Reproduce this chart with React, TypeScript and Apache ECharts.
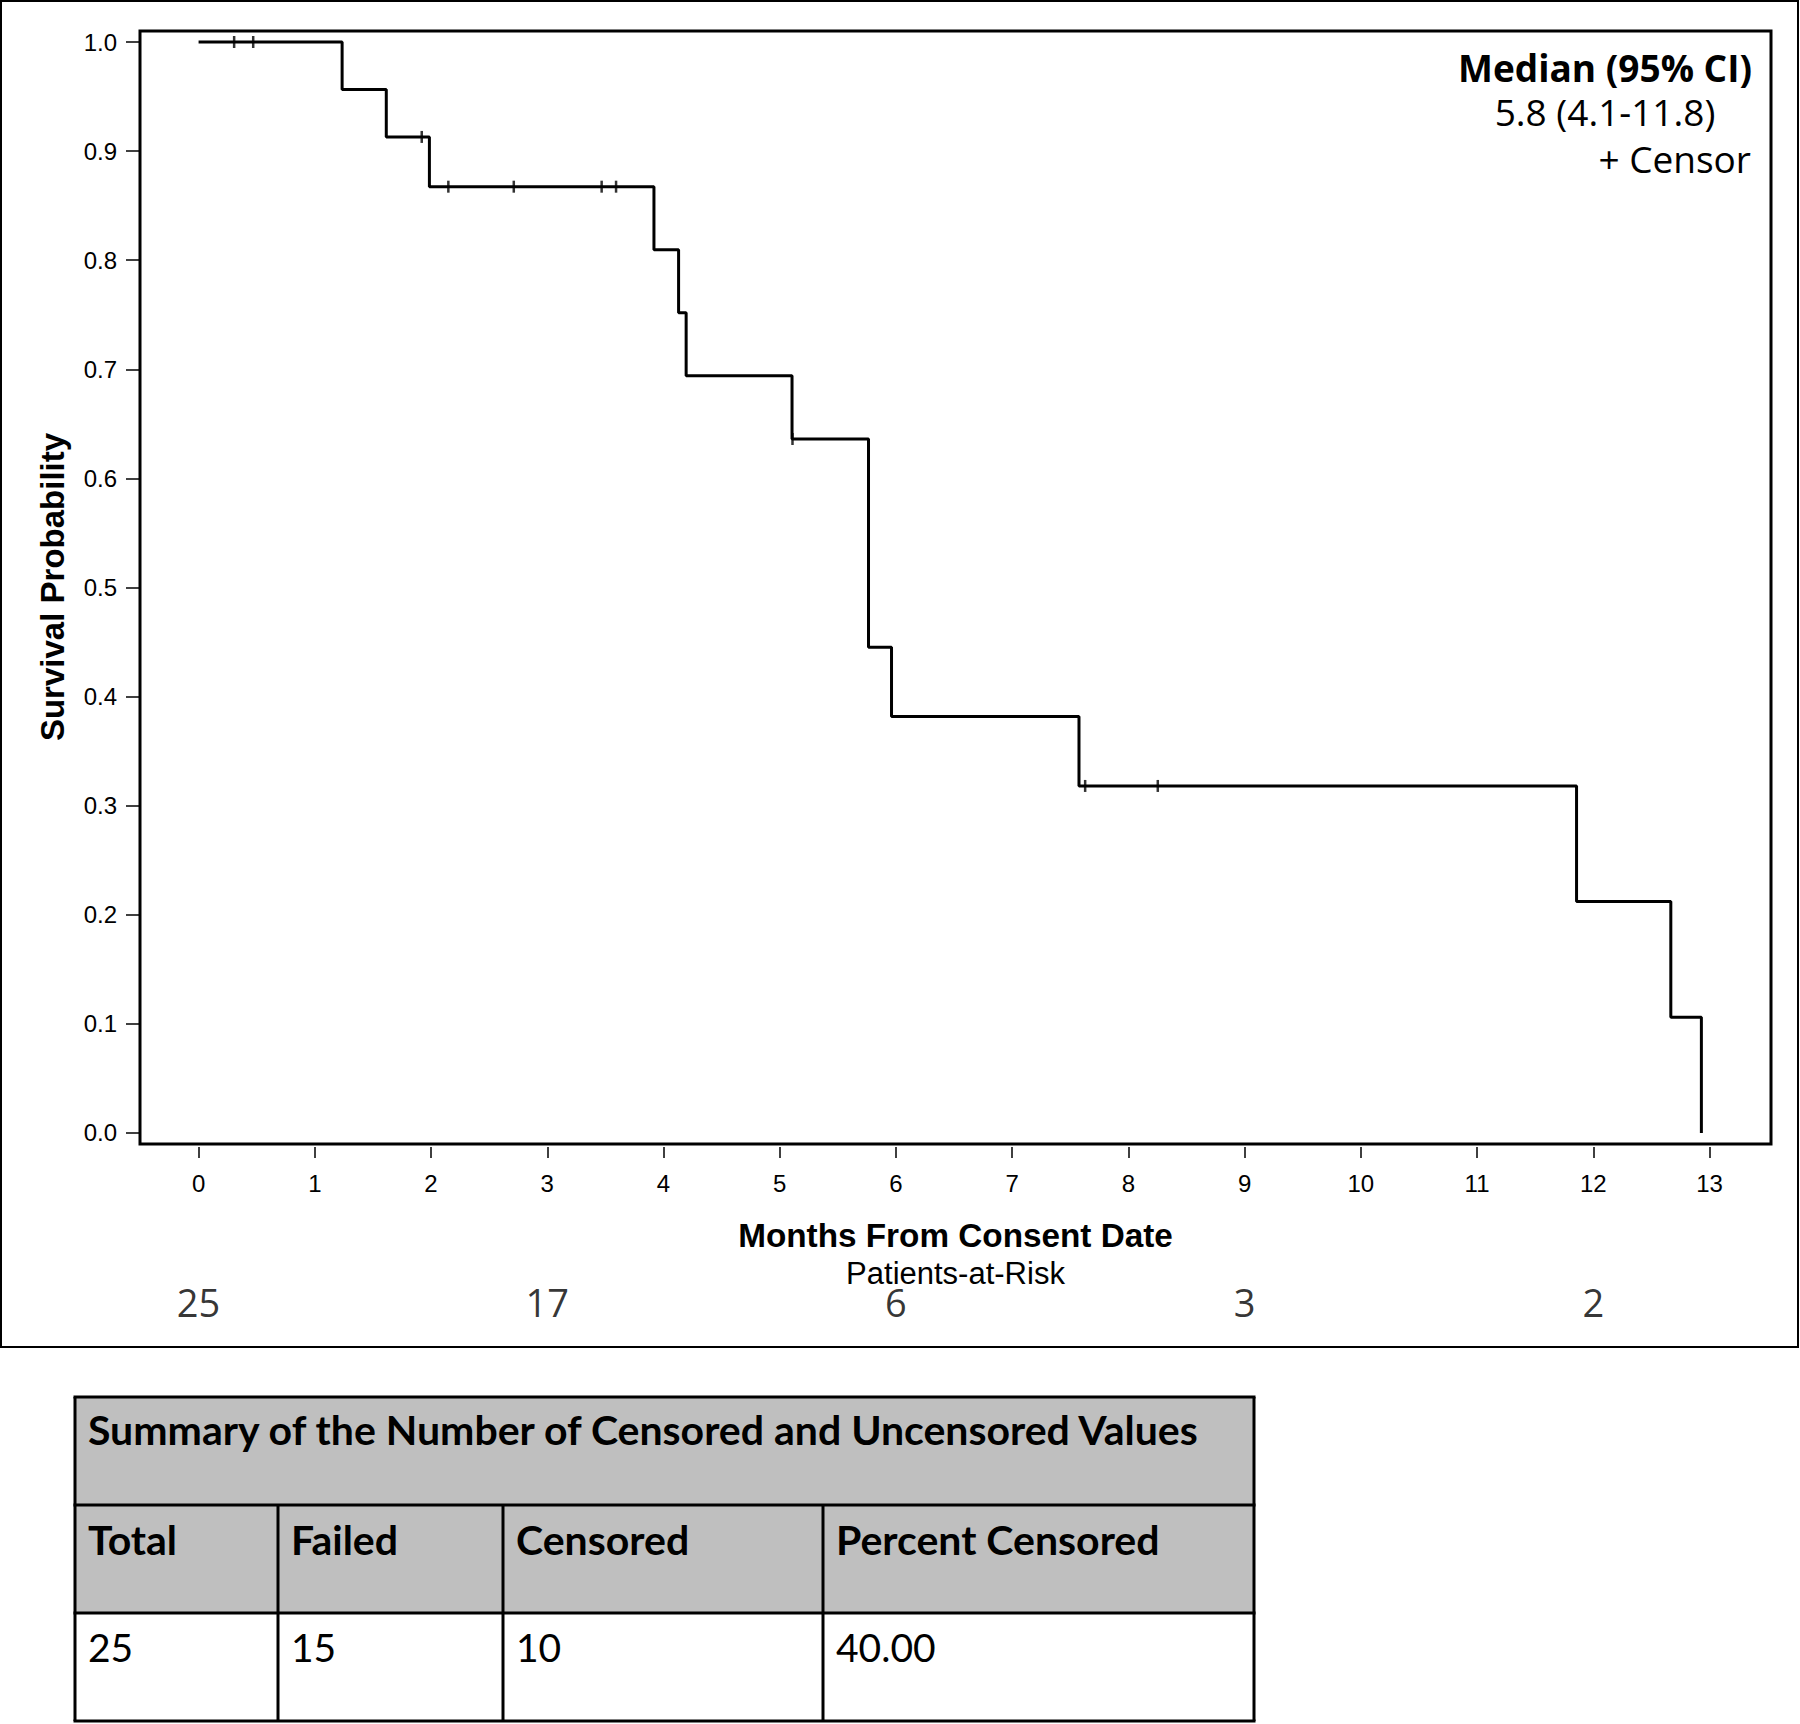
import React, { useEffect, useRef } from 'react';
import * as echarts from 'echarts';

// Kaplan-Meier step points (time in months, survival probability)
const stepTimes = [0, 1.235, 1.615, 1.986, 3.918, 4.13, 4.195, 5.106, 5.764, 5.962, 7.575, 11.856, 12.667, 12.93];
const survival = [1.0, 0.9565, 0.913, 0.8674, 0.8096, 0.7518, 0.694, 0.6361, 0.4453, 0.3817, 0.3181, 0.2121, 0.106, 0.0];

// Censored observations
const censorTimes = [0.306, 0.47, 1.92, 2.149, 2.712, 3.468, 3.592, 5.11, 7.628, 8.253];
const censorSurvival = [1.0, 1.0, 0.913, 0.8674, 0.8674, 0.8674, 0.8674, 0.6361, 0.3181, 0.3181];

// Axis ticks
const xTicks = [0, 1, 2, 3, 4, 5, 6, 7, 8, 9, 10, 11, 12, 13];
const yTicks = [0, 0.1, 0.2, 0.3, 0.4, 0.5, 0.6, 0.7, 0.8, 0.9, 1.0];

// Patients at risk
const atRiskTimes = [0, 3, 6, 9, 12];
const atRiskCounts = [25, 17, 6, 3, 2];

// Texts
const xTitle = 'Months From Consent Date';
const yTitle = 'Survival Probability';
const atRiskTitle = 'Patients-at-Risk';
const medianTitle = 'Median (95% CI)';
const medianValue = '5.8 (4.1-11.8)';
const censorLegend = '+ Censor';

// Summary table
const tableTitle = 'Summary of the Number of Censored and Uncensored Values';
const tableHeaders = ['Total', 'Failed', 'Censored', 'Percent Censored'];
const tableValues = ['25', '15', '10', '40.00'];

const ARIAL = '"Liberation Sans", Arial, sans-serif';
const SEGOE = '"Open Sans", "Noto Sans", sans-serif';
const CALIBRI = 'Lato, "Open Sans", sans-serif';

export default function App() {
  const ref = useRef<HTMLDivElement>(null);

  useEffect(() => {
    if (!ref.current) return;
    const chart = echarts.init(ref.current, undefined, { renderer: 'svg' });

    const gridLeft = 140;
    const gridWidth = 1631;
    const xMin = -0.504;
    const xMax = 13.529;

    const colX = [75, 278, 503, 823, 1254];
    const rowY = [1397, 1505, 1613, 1721];
    const gray = '#bfbfbf';

    const tableEls: any[] = [];
    tableEls.push({ type: 'rect', shape: { x: colX[0], y: rowY[0], width: colX[4] - colX[0], height: rowY[2] - rowY[0] }, style: { fill: gray } });
    tableEls.push({ type: 'rect', shape: { x: colX[0], y: rowY[2], width: colX[4] - colX[0], height: rowY[3] - rowY[2] }, style: { fill: '#fff' } });
    rowY.forEach((y) => {
      tableEls.push({ type: 'line', shape: { x1: colX[0] - 1.5, y1: y, x2: colX[4] + 1.5, y2: y }, style: { stroke: '#000', lineWidth: 3 } });
    });
    colX.forEach((x, i) => {
      const top = i === 0 || i === colX.length - 1 ? rowY[0] : rowY[1];
      tableEls.push({ type: 'line', shape: { x1: x, y1: top, x2: x, y2: rowY[3] }, style: { stroke: '#000', lineWidth: 3 } });
    });
    tableEls.push({
      type: 'text', x: colX[0] + 13, y: 1429,
      style: { text: tableTitle, fontFamily: CALIBRI, fontWeight: 'bold', fontSize: 41, fill: '#000', align: 'left', verticalAlign: 'middle' },
    });
    tableHeaders.forEach((h, i) => {
      tableEls.push({
        type: 'text', x: colX[i] + 13, y: 1539,
        style: { text: h, fontFamily: CALIBRI, fontWeight: 'bold', fontSize: 41, fill: '#000', align: 'left', verticalAlign: 'middle' },
      });
    });
    tableValues.forEach((v, i) => {
      tableEls.push({
        type: 'text', x: colX[i] + 13, y: 1647,
        style: { text: v, fontFamily: CALIBRI, fontSize: 39, fill: '#000', align: 'left', verticalAlign: 'middle' },
      });
    });

    const option: any = {
      animation: false,
      backgroundColor: '#fff',
      grid: [
        { left: gridLeft, top: 31, width: gridWidth, height: 1113, show: true, borderColor: '#000', borderWidth: 3, backgroundColor: 'transparent' },
        { left: gridLeft, top: 1284, width: gridWidth, height: 36, show: false },
      ],
      xAxis: [
        {
          type: 'value', gridIndex: 0, min: xMin, max: xMax, offset: 3,
          axisLine: { show: false, onZero: false },
          axisTick: { show: true, length: 11, customValues: xTicks, lineStyle: { color: '#000', width: 1.5 } },
          axisLabel: { show: true, customValues: xTicks, margin: 24, fontFamily: ARIAL, fontSize: 24, color: '#000' },
          splitLine: { show: false },
        },
        { type: 'value', gridIndex: 1, min: xMin, max: xMax, show: false },
      ],
      yAxis: [
        {
          type: 'value', gridIndex: 0, min: -0.0101, max: 1.0101,
          axisLine: { show: false, onZero: false },
          axisTick: { show: true, length: 14, customValues: yTicks, lineStyle: { color: '#000', width: 1.5 } },
          axisLabel: { show: true, customValues: yTicks, margin: 23, fontFamily: ARIAL, fontSize: 24, color: '#000', formatter: (v: number) => v.toFixed(1) },
          splitLine: { show: false },
        },
        { type: 'value', gridIndex: 1, min: 0, max: 1, show: false },
      ],
      series: [
        {
          type: 'line', name: 'Survival', xAxisIndex: 0, yAxisIndex: 0,
          step: 'end', symbol: 'none',
          lineStyle: { color: '#000', width: 3 },
          data: stepTimes.map((t, i) => [t, survival[i]]),
          z: 3,
        },
        {
          type: 'scatter', name: 'Censor', xAxisIndex: 0, yAxisIndex: 0,
          symbol: 'rect', symbolSize: [2.5, 12],
          itemStyle: { color: '#000' },
          data: censorTimes.map((t, i) => [t, censorSurvival[i]]),
          z: 4,
        },
        {
          type: 'scatter', name: 'At risk', xAxisIndex: 1, yAxisIndex: 1,
          symbolSize: 1, itemStyle: { color: 'rgba(0,0,0,0)' },
          label: { show: true, position: 'inside', formatter: (p: any) => String(p.value[2]), fontFamily: SEGOE, fontSize: 38, lineHeight: 26, color: '#000' },
          data: atRiskTimes.map((t, i) => [t, 0.5, atRiskCounts[i]]),
        },
      ],
      graphic: [
        { type: 'rect', shape: { x: 1, y: 1, width: 1797, height: 1346 }, style: { fill: 'none', stroke: '#000', lineWidth: 2 }, z: 10 },
        {
          type: 'text', x: 52, y: 587, rotation: Math.PI / 2,
          style: { text: yTitle, fontFamily: ARIAL, fontWeight: 'bold', fontSize: 33, fill: '#000', align: 'center', verticalAlign: 'middle' },
        },
        {
          type: 'text', x: 955.5, y: 1235,
          style: { text: xTitle, fontFamily: ARIAL, fontWeight: 'bold', fontSize: 33.3, fill: '#000', align: 'center', verticalAlign: 'middle' },
        },
        {
          type: 'text', x: 955.5, y: 1273,
          style: { text: atRiskTitle, fontFamily: ARIAL, fontSize: 31, lineHeight: 26, fill: '#000', align: 'center', verticalAlign: 'middle' },
        },
        {
          type: 'text', x: 1605, y: 67,
          style: { text: medianTitle, fontFamily: SEGOE, fontWeight: 'bold', fontSize: 37, fill: '#000', align: 'center', verticalAlign: 'middle' },
        },
        {
          type: 'text', x: 1605, y: 111,
          style: { text: medianValue, fontFamily: SEGOE, fontSize: 37, fill: '#000', align: 'center', verticalAlign: 'middle' },
        },
        {
          type: 'text', x: 1751, y: 158,
          style: { text: censorLegend, fontFamily: SEGOE, fontSize: 37, fill: '#000', align: 'right', verticalAlign: 'middle' },
        },
        ...tableEls,
      ],
    };

    chart.setOption(option);
    return () => chart.dispose();
  }, []);

  return (
    <div
      ref={ref}
      style={{ position: 'absolute', left: 0, top: 0, width: 1800, height: 1724, background: '#fff' }}
    />
  );
}
